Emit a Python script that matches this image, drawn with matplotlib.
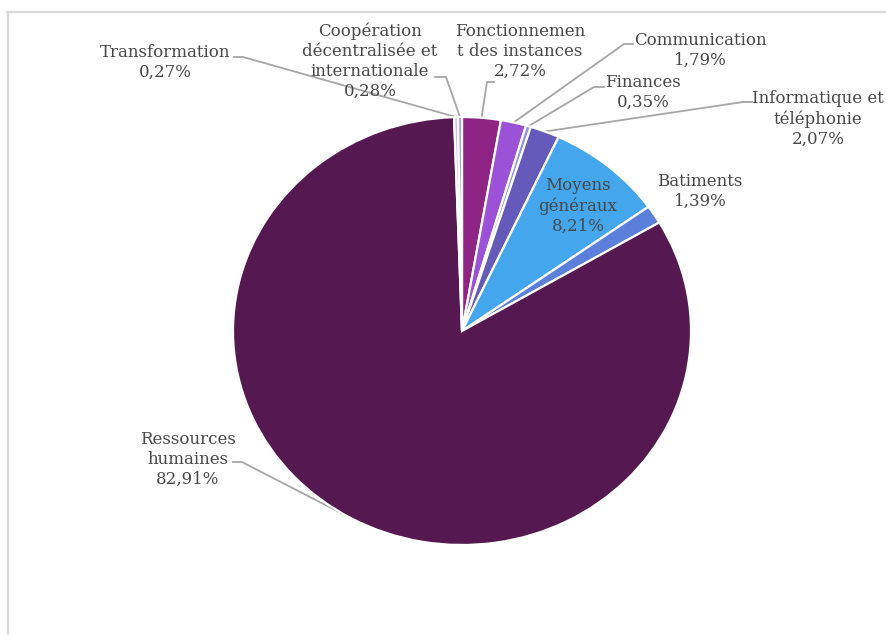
import numpy as np
import matplotlib.pyplot as plt
from matplotlib.lines import Line2D

# Budget shares by item, clockwise from 12 o'clock
categories = [
    "Fonctionnement des instances",
    "Communication",
    "Finances",
    "Informatique et téléphonie",
    "Moyens généraux",
    "Batiments",
    "Ressources humaines",
    "Transformation",
    "Coopération décentralisée et internationale",
]
shares = [2.72, 1.79, 0.35, 2.07, 8.21, 1.39, 82.91, 0.27, 0.28]
colors = ["#8e2484", "#9b52d6", "#8f95ee", "#6559ba", "#44a6ec",
          "#5a80dc", "#561850", "#c9bde9", "#9a98e6"]
label_lines = [
    "Fonctionnemen\nt des instances",
    "Communication",
    "Finances",
    "Informatique et\ntéléphonie",
    "Moyens\ngénéraux",
    "Batiments",
    "Ressources\nhumaines",
    "Transformation",
    "Coopération\ndécentralisée et\ninternationale",
]

W, H = 886, 635
CX, CY, RX, RY = 462, 331, 229, 214

fig = plt.figure(figsize=(W / 100, H / 100), dpi=100)
ax = fig.add_axes([0, 0, 1, 1])

wedges, _ = ax.pie(shares, colors=colors, startangle=90, counterclock=False,
                   radius=1, center=(0, 0), frame=False,
                   wedgeprops=dict(edgecolor="white", linewidth=1.6))
ax.set_aspect("auto")
ax.set_xlim((0 - CX) / RX, (W - CX) / RX)
ax.set_ylim((CY - H) / RY, CY / RY)
ax.axis("off")


def px(x, y):
    """Pixel position (top-left origin) to data coordinates."""
    return ((x - CX) / RX, (CY - y) / RY)


text_kw = dict(family="DejaVu Serif", fontsize=12, color="#474747",
               ha="center", va="center", multialignment="center",
               linespacing=1.22)
lead_kw = dict(color="#a6a6a6", lw=1.3, zorder=0.5)

# label block centre (px) and leader path (elbow, end) in px, or None
layout = [
    ((520, 51), [(487, 82), (494, 82)]),
    ((700, 50), [(624, 44), (633, 44)]),
    ((643, 92), [(594, 87), (604, 87)]),
    ((818, 119), [(743, 102), (752, 102)]),
    ((578, 206), None),
    ((700, 191), None),
    ((188, 459), [(242, 462), (233, 462)]),
    ((165, 62), [(243, 57), (234, 57)]),
    ((370, 61), [(446, 77), (435, 77)]),
]

for w, name, v, (pos, path) in zip(wedges, label_lines, shares, layout):
    txt = name + "\n" + f"{v:.2f}".replace(".", ",") + "%"
    ax.text(*px(*pos), txt, **text_kw)
    if path is not None:
        mid = np.deg2rad((w.theta1 + w.theta2) / 2)
        pts = [(np.cos(mid), np.sin(mid))] + [px(*p) for p in path]
        xs, ys = zip(*pts)
        ax.plot(xs, ys, **lead_kw)

# light frame along top and left edges
fig.add_artist(Line2D([7 / W, 885 / W], [1 - 12 / H, 1 - 12 / H],
                      transform=fig.transFigure, color="#d9d9d9", lw=1.6))
fig.add_artist(Line2D([8 / W, 8 / W], [0, 1 - 12 / H],
                      transform=fig.transFigure, color="#d9d9d9", lw=1.6))

fig.savefig("out.png", dpi=100, facecolor="white")
